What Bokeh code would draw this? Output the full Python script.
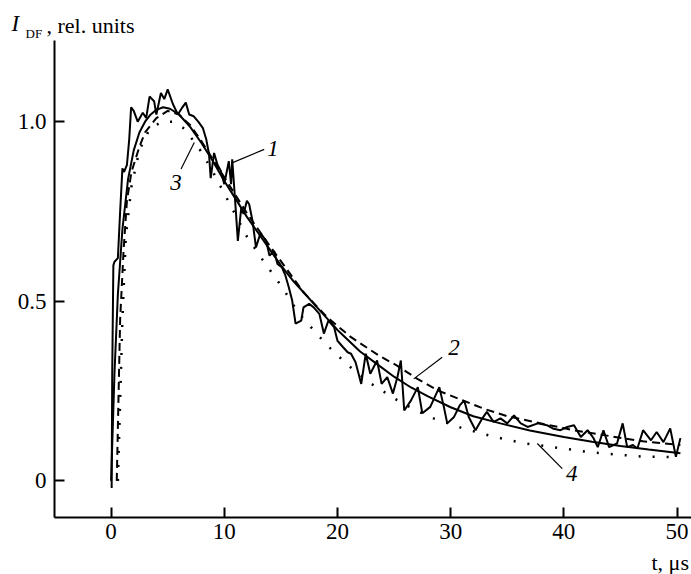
from bokeh.plotting import figure
from bokeh.models import Label, Range1d, FixedTicker
from bokeh.embed import file_html
from bokeh.resources import INLINE

# ---- data ----
# curve 1: experimental (noisy)
t1 = [0.05, 0.1, 0.2, 0.3, 0.6, 0.8, 1.0, 1.15, 1.4, 1.6,
      1.77, 2.0, 2.35, 2.8, 3.1, 3.4, 3.8, 4.0, 4.4, 4.7,
      5.0, 5.45, 5.9, 6.3, 6.6, 6.9, 7.3, 7.7, 8.1, 8.4,
      8.65, 8.8, 9.1, 9.4, 9.7, 10.0, 10.4, 10.6, 10.7, 10.9,
      11.2, 11.5, 11.7, 12.0, 12.2, 12.5, 12.8, 13.2, 13.7, 14.0,
      14.4, 14.7, 15.1, 15.4, 15.7, 16.0, 16.3, 16.8, 17.0, 17.5,
      17.9, 18.4, 18.8, 19.2, 19.7, 20.0, 20.5, 20.9, 21.2, 21.6,
      22.1, 22.5, 22.9, 23.5, 23.9, 24.4, 24.9, 25.3, 25.6, 25.9,
      26.5, 27.1, 27.5, 28.2, 29.0, 29.4, 29.7, 30.3, 30.8, 31.2,
      31.6, 32.2, 32.8, 33.2, 33.8, 34.4, 35.0, 35.6, 36.2, 36.8,
      37.7, 38.5, 39.1, 39.7, 40.3, 40.9, 41.5, 42.1, 42.6, 43.0,
      43.5, 44.0, 44.7, 45.2, 45.6, 46.1, 46.5, 47.0, 47.7, 48.2,
      48.8, 49.4, 49.9, 50.3]
y1 = [-0.02, 0.3, 0.6, 0.61, 0.62, 0.75, 0.87, 0.86, 0.88, 0.95,
      1.04, 1.03, 1.0, 1.025, 1.01, 1.07, 1.057, 1.02, 1.08, 1.063,
      1.09, 1.05, 1.02, 1.04, 1.053, 1.02, 1.015, 1.0, 0.983, 0.952,
      0.91, 0.843, 0.913, 0.88, 0.863, 0.826, 0.89, 0.826, 0.895, 0.807,
      0.668, 0.76, 0.743, 0.78, 0.77, 0.723, 0.65, 0.69, 0.668, 0.627,
      0.64, 0.604, 0.594, 0.572, 0.539, 0.502, 0.438, 0.446, 0.483, 0.493,
      0.483, 0.465, 0.41, 0.446, 0.428, 0.39, 0.372, 0.358, 0.354, 0.33,
      0.27, 0.354, 0.298, 0.335, 0.27, 0.289, 0.243, 0.289, 0.335, 0.196,
      0.224, 0.261, 0.188, 0.206, 0.261, 0.206, 0.16, 0.178, 0.21, 0.224,
      0.178, 0.141, 0.174, 0.192, 0.164, 0.174, 0.16, 0.182, 0.16, 0.15,
      0.16, 0.155, 0.145, 0.141, 0.15, 0.155, 0.122, 0.141, 0.12, 0.094,
      0.141, 0.094, 0.104, 0.16, 0.094, 0.1, 0.09, 0.141, 0.113, 0.136,
      0.108, 0.146, 0.067, 0.119]

# curve 2: dashed
t2 = [0.5, 0.8, 1.1, 1.4, 1.8, 2.0, 2.5, 3.0, 3.5, 4.0, 5.0, 6.0, 7.0, 8.0,
      9.0, 10.0, 12.0, 14.0, 15.5, 17.0, 19.1, 21.2, 23.6, 25.3, 27.1, 29.0,
      31.0, 33.0, 35.0, 38.0, 41.0, 44.0, 47.0, 50.3]
y2 = [0.0, 0.45, 0.64, 0.78, 0.86, 0.88, 0.93, 0.97, 0.99, 1.01, 1.03, 1.02,
      0.99, 0.945, 0.895, 0.845, 0.745, 0.655, 0.59, 0.525, 0.455, 0.40, 0.35,
      0.32, 0.283, 0.25, 0.225, 0.2, 0.18, 0.16, 0.14, 0.125, 0.11, 0.1]

# curve 3: smooth solid
t3 = [0.0, 0.3, 0.6, 1.0, 1.5, 2.0, 2.5, 3.0, 3.5, 4.0, 4.6, 5.2, 6.0, 7.0,
      8.0, 9.0, 10.0, 11.0, 12.0, 13.0, 14.0, 15.0, 16.0, 17.0, 18.0, 19.0,
      20.0, 21.0, 22.0, 23.5, 25.0, 26.5, 28.0, 30.0, 32.0, 34.4, 37.0, 40.0,
      42.5, 45.0, 47.5, 50.3]
y3 = [0.0, 0.3, 0.52, 0.7, 0.84, 0.92, 0.97, 1.0, 1.02, 1.033, 1.04, 1.036,
      1.02, 0.985, 0.94, 0.89, 0.835, 0.785, 0.735, 0.69, 0.645, 0.6, 0.56,
      0.525, 0.49, 0.455, 0.42, 0.39, 0.36, 0.325, 0.29, 0.26, 0.235, 0.205,
      0.18, 0.16, 0.14, 0.122, 0.109, 0.097, 0.087, 0.077]

# curve 4: dotted
t4 = [0.6, 1.0, 1.3, 1.8, 2.5, 3.4, 4.5, 5.5, 6.5, 8.0, 9.0, 10.0, 11.0, 12.0,
      13.4, 14.3, 15.2, 16.5, 18.3, 19.4, 21.0, 23.0, 25.0, 27.0, 28.5, 31.1,
      33.8, 36.4, 39.0, 41.8, 44.0, 46.8, 48.8, 50.3]
y4 = [0.0, 0.45, 0.68, 0.82, 0.92, 0.98, 1.0, 1.0, 0.98, 0.915, 0.86, 0.80,
      0.74, 0.68, 0.615, 0.575, 0.535, 0.47, 0.405, 0.368, 0.32, 0.27, 0.23,
      0.195, 0.174, 0.146, 0.123, 0.105, 0.094, 0.082, 0.075, 0.068, 0.067,
      0.065]

x_ticks = [0, 10, 20, 30, 40, 50]
y_ticks = [0, 0.5, 1.0]
y_tick_labels = ["0", "0.5", "1.0"]

curve_names = ["1", "2", "3", "4"]
name_pos = [(14.3, 0.924), (30.3, 0.371), (5.74, 0.832), (40.7, 0.021)]
leader_from = [(10.74, 0.886), (26.74, 0.284), (6.18, 0.868), (37.66, 0.104)]
leader_to = [(13.53, 0.923), (29.25, 0.344), (7.35, 0.942), (39.86, 0.034)]

FONT = "Liberation Serif"

p = figure(width=691, height=574, x_range=Range1d(-5, 51.28),
           y_range=Range1d(-0.102, 1.226), output_backend="svg",
           toolbar_location=None, min_border_left=54, min_border_right=0,
           min_border_top=39, min_border_bottom=57)
p.outline_line_color = None
p.xgrid.visible = False
p.ygrid.visible = False

p.xaxis.ticker = FixedTicker(ticks=x_ticks)
p.yaxis.ticker = FixedTicker(ticks=y_ticks)
p.yaxis.major_label_overrides = {v: s for v, s in zip(y_ticks, y_tick_labels)}
for ax in p.axis:
    ax.axis_line_width = 2
    ax.axis_line_color = "black"
    ax.major_tick_line_width = 2
    ax.major_tick_line_color = "black"
    ax.major_tick_in = 10
    ax.major_tick_out = 0
    ax.minor_tick_line_color = None
    ax.major_label_text_font = FONT
    ax.major_label_text_font_size = "23px"
    ax.major_label_text_color = "black"
p.yaxis.major_label_standoff = 8
p.xaxis.major_label_standoff = 6

p.line(t3, y3, line_color="black", line_width=2)
p.line(t2, y2, line_color="black", line_width=2, line_dash="8 5")
p.line(t4, y4, line_color="black", line_width=2.5, line_dash="2 12")
p.line(t1, y1, line_color="black", line_width=2)

p.segment(x0=[a[0] for a in leader_from], y0=[a[1] for a in leader_from],
          x1=[a[0] for a in leader_to], y1=[a[1] for a in leader_to],
          line_color="black", line_width=1.2)

for name, (x, y) in zip(curve_names, name_pos):
    p.add_layout(Label(x=x, y=y, text=name, text_font=FONT,
                       text_font_style="italic", text_font_size="23px",
                       text_align="center", text_baseline="middle",
                       text_color="black"))

# axis titles (placed in side panels so that they are not clipped)
p.add_layout(Label(x=-8, y=15, x_units="screen", y_units="screen",
                   text=", rel. units", text_font=FONT, text_font_size="22px",
                   text_baseline="alphabetic", text_color="black"), "above")
p.add_layout(Label(x=-29, y=-18.4, x_units="screen", y_units="screen",
                   text="DF", text_font=FONT, text_font_size="13px",
                   text_baseline="alphabetic", text_color="black"), "above")
p.add_layout(Label(x=5, y=494, x_units="screen", y_units="screen",
                   text="I", text_font=FONT, text_font_style="italic",
                   text_font_size="23px", text_baseline="alphabetic",
                   text_color="black"), "left")
p.add_layout(Label(x=597, y=4, x_units="screen", y_units="screen",
                   text="t, μs", text_font=FONT, text_font_size="22px",
                   text_baseline="alphabetic", text_color="black"), "below")

open("out.html", "w").write(file_html(p, INLINE))
